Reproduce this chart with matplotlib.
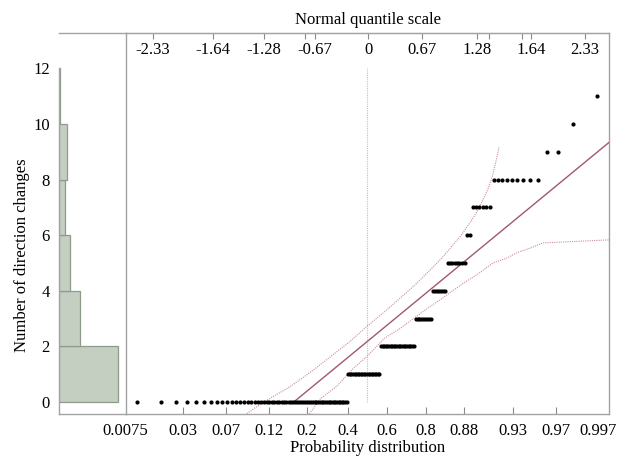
import matplotlib
matplotlib.use('Agg')
import matplotlib.pyplot as plt
import matplotlib.transforms as mtransforms
import numpy as np
from statistics import NormalDist

# ---------------- data ----------------
values = [0, 1, 2, 3, 4, 5, 6, 7, 8, 9, 10, 11]
counts = [62, 21, 21, 9, 7, 8, 2, 6, 9, 2, 1, 1]
hist_bins = [0, 2, 4, 6, 8, 10, 12]
y_ticks = [0, 2, 4, 6, 8, 10, 12]

top_labels = ['-2.33', '-1.64', '-1.28', '-0.67', '0', '0.67', '1.28', '1.64', '2.33']
bottom_labels = ['0.0075', '0.03', '0.07', '0.12', '0.2', '0.4', '0.6', '0.8',
                 '0.88', '0.93', '0.97', '0.997']

# confidence bands (normal quantile, value)
upper_band_z = [-1.33, -1.2, -1.04, -0.85, -0.70, -0.55, -0.40, -0.2, 0.0, 0.25, 0.5,
                0.68, 0.8, 0.9, 1.0, 1.108, 1.18, 1.25, 1.30, 1.35, 1.39, 1.42]
upper_band_v = [-0.51, -0.20, 0.14, 0.50, 0.85, 1.22, 1.61, 2.13, 2.72, 3.42, 4.16,
                4.75, 5.16, 5.55, 5.94, 6.45, 6.83, 7.3, 7.65, 8.15, 8.70, 9.17]
lower_band_z = [-0.62, -0.5, -0.33, -0.15, 0.0, 0.19, 0.35, 0.5, 0.65, 0.785, 0.92,
                1.05, 1.2, 1.355, 1.5, 1.62, 1.75, 1.892, 2.602]
lower_band_v = [-0.43, 0.12, 0.55, 1.20, 1.64, 2.30, 2.63, 3.0, 3.37, 3.67, 4.0,
                4.3, 4.62, 5.0, 5.17, 5.38, 5.53, 5.72, 5.83]

# ---------------- layout ----------------
top_pos = [-2.301, -1.656, -1.108, -0.559, 0.011, 0.591, 1.183, 1.763, 2.344]
top_minor = [-0.667, 1.312, 1.667]
bottom_pos = [-2.597, -1.978, -1.516, -1.054, -0.645, -0.204, 0.215, 0.634,
              1.043, 1.570, 2.032, 2.489]
bottom_tick_pos = bottom_pos[1:-1]

plt.rcParams['font.family'] = ['Liberation Serif', 'DejaVu Serif']
plt.rcParams['font.size'] = 12

W, H = 634, 457
fig = plt.figure(figsize=(W / 100, H / 100), dpi=100)


def rect(x0, y0, x1, y1):
    return [x0 / W, 1 - y1 / H, (x1 - x0) / W, (y1 - y0) / H]


axh = fig.add_axes(rect(59, 33, 126, 414))
ax = fig.add_axes(rect(126, 33, 609, 414))

ylim = (-0.432, 13.27)
xlim = (-2.591, 2.602)
frame_col = '#a3a3a3'
tick_col = '#8a8a8a'

# ---------------- histogram ----------------
data = np.repeat(values, counts)
hcounts, _ = np.histogram(data, bins=hist_bins)
axh.barh(hist_bins[:-1], hcounts, height=2, align='edge',
         color='#c5cfc1', edgecolor='#8e9b8b', linewidth=0.9)
axh.set_xlim(0, 94.2)
axh.set_ylim(*ylim)
axh.set_xticks([])
axh.set_yticks(y_ticks)
axh.set_yticklabels([str(v) for v in y_ticks])
axh.tick_params(axis='y', length=0, pad=6.5)
for s in ['top', 'bottom', 'left']:
    axh.spines[s].set_color(frame_col)
    axh.spines[s].set_linewidth(1.0)
axh.spines['right'].set_visible(False)
axh.spines['left'].set_bounds(ylim[0], 12)

# ---------------- normal quantile plot ----------------
N = len(data)
nd = NormalDist()
zq = np.array([nd.inv_cdf(i / (N + 1)) for i in range(1, N + 1)])
ys = np.sort(data)

mean = data.mean()
sd = data.std(ddof=1)

ax.plot([0, 0], [0, 12], color='#a8d69a', lw=0.8, ls=(0, (1, 1)), zorder=1)
ax.plot(upper_band_z, upper_band_v, color='#c98dab', lw=0.8, ls=(0, (1, 1)), zorder=2)
ax.plot(lower_band_z, lower_band_v, color='#c98dab', lw=0.8, ls=(0, (1, 1)), zorder=2)
z_start = (0 - mean) / sd
ax.plot([z_start, xlim[1]], [0, mean + sd * xlim[1]], color='#a05676', lw=1.0, zorder=3)
ax.plot(zq, ys, 'o', color='black', ms=3.0, mew=0, zorder=5)

ax.set_xlim(*xlim)
ax.set_ylim(*ylim)
ax.set_yticks([])
ax.set_xticks(bottom_tick_pos, minor=False)
ax.set_xticklabels([])
ax.tick_params(axis='x', direction='in', length=5, color=tick_col, width=0.8)
for s in ax.spines.values():
    s.set_color(frame_col)
    s.set_linewidth(1.0)

trans = mtransforms.blended_transform_factory(ax.transData, ax.transAxes)
for p, lab in zip(bottom_pos, bottom_labels):
    ax.text(p, (414 - 435) / 381, lab, transform=trans, ha='center', va='baseline')

secax = ax.secondary_xaxis('top')
secax.set_xticks(top_pos + top_minor)
secax.set_xticklabels([])
secax.tick_params(direction='in', length=4, color=tick_col, width=0.8)
secax.spines['top'].set_color(frame_col)
for p, lab in zip(top_pos, top_labels):
    ax.text(p, (414 - 54) / 381, lab, transform=trans, ha='center', va='baseline')

fig.text(368 / W, 1 - 24 / H, 'Normal quantile scale', ha='center', va='baseline')
fig.text(367.5 / W, 1 - 451.5 / H, 'Probability distribution', ha='center', va='baseline')
fig.text(22 / W, 1 - 255 / H, 'Number of direction changes', ha='center', va='center',
         rotation=90)

fig.savefig('out.png', dpi=100)
